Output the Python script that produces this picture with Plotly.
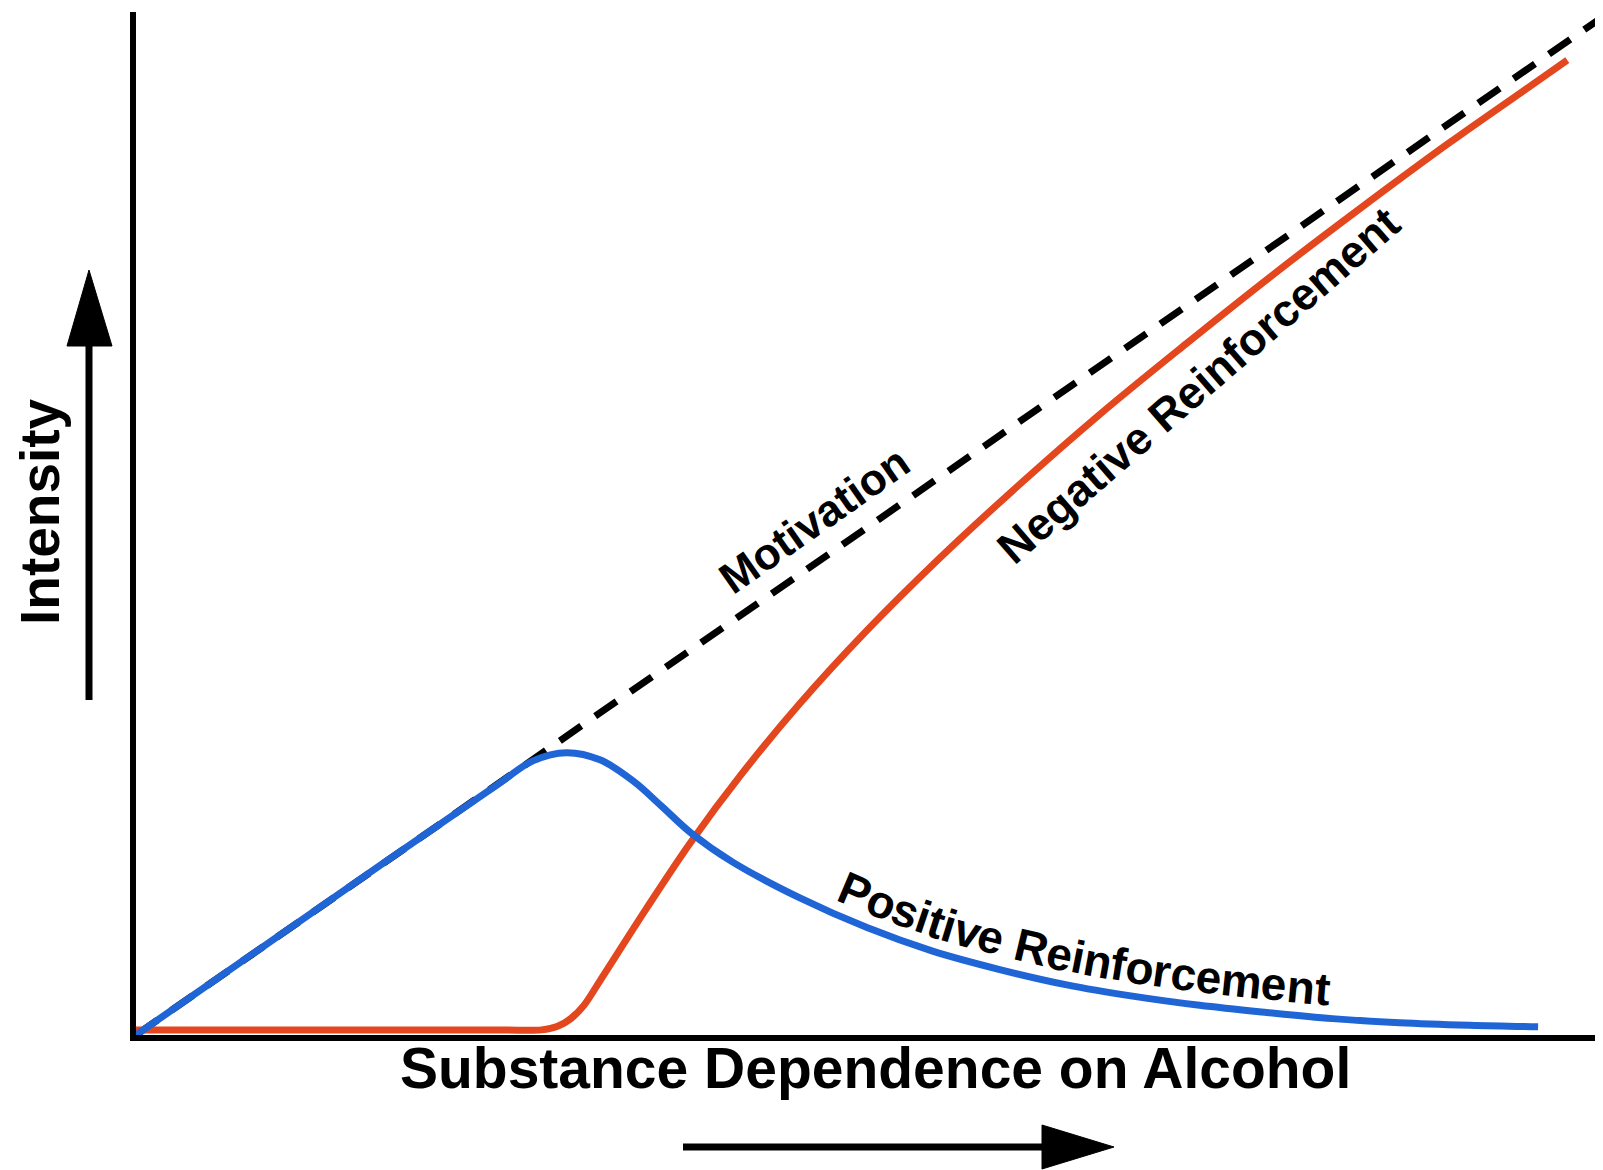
import math

import numpy as np
import plotly.graph_objects as go

# curves (x: dependence, y: intensity, both 0-100)
motivation_x = [0, 100.5]
motivation_y = [0, 99.5]

positive_x = [0, 12.0, 24.9, 27.2, 29.5, 31.8, 34.1, 36.0, 38.0, 40.9, 45.5, 50.1, 54.6,
              59.2, 63.8, 68.3, 72.9, 77.5, 82.0, 86.6, 91.4, 96.1]
positive_y = [0, 11.9, 24.6, 26.8, 27.6, 26.9, 24.8, 22.4, 19.8, 16.9, 13.4, 10.5, 8.2,
              6.4, 4.9, 3.8, 2.9, 2.2, 1.6, 1.2, 0.95, 0.8]

negative_x = [0, 9.0, 18.0, 25.0, 27.8, 28.9, 29.8, 30.7, 31.8, 35.0, 38.0, 41.5, 45.5,
              50.0, 55.0, 60.0, 66.0, 72.0, 78.0, 84.0, 90.0, 95.0, 98.1]
negative_y = [0.5, 0.5, 0.5, 0.5, 0.5, 0.85, 1.6, 2.9, 5.3, 12.4, 18.8, 25.5, 32.4,
              39.4, 46.5, 53.1, 60.6, 67.6, 74.4, 80.9, 87.2, 92.2, 95.3]

BLUE = "#1f65d6"
RED = "#e4461e"
FONT = "Liberation Sans, Arial, sans-serif"

W, H = 1603, 1170
ML, MR, MT, MB = 136, 8, 12, 135
PW, PH = W - ML - MR, H - MT - MB
SX, SY = PW / 100, PH / 100


def paper(px, py):
    return (px - ML) / PW, (H - MB - py) / PH


def to_px(x, y):
    return ML + np.asarray(x) * SX, H - MB - np.asarray(y) * SY


def to_data(px, py):
    return (px - ML) / SX, (H - MB - py) / SY


fig = go.Figure()
fig.add_trace(go.Scatter(x=motivation_x, y=motivation_y, mode="lines",
                         line=dict(color="black", width=7, dash="26px,17px")))
fig.add_trace(go.Scatter(x=negative_x, y=negative_y, mode="lines", line_shape="spline",
                         line=dict(color=RED, width=7, smoothing=1.0)))
fig.add_trace(go.Scatter(x=positive_x, y=positive_y, mode="lines", line_shape="spline",
                         line=dict(color=BLUE, width=7, smoothing=1.0)))

ann = []
ann.append(dict(x=46.5, y=50.4, xref="x", yref="y", text="Motivation", showarrow=False,
                textangle=-35, xanchor="center", yanchor="middle",
                font=dict(family=FONT, size=44, color="black", weight="bold")))
ann.append(dict(x=72.8, y=63.5, xref="x", yref="y", text="Negative Reinforcement",
                showarrow=False, textangle=-41, xanchor="center", yanchor="middle",
                font=dict(family=FONT, size=45, color="black", weight="bold")))

# "Positive Reinforcement" bends along the blue curve: place it glyph by glyph
pos_size = 46
widths = {"P": 667, "o": 611, "s": 556, "i": 278, "t": 333, "v": 556, "e": 556, " ": 278,
          "R": 722, "n": 611, "f": 333, "r": 389, "c": 556, "m": 889}
xs = np.linspace(34, 96, 800)
bx, by = to_px(xs, np.interp(xs, positive_x, positive_y))
arc = np.concatenate([[0], np.cumsum(np.hypot(np.diff(bx), np.diff(by)))])
s = np.interp(830, bx, arc)
for ch in "Positive Reinforcement":
    w = widths[ch] * pos_size / 1000
    sc = s + w / 2
    s += w
    if ch == " ":
        continue
    px, py = np.interp(sc, arc, bx), np.interp(sc, arc, by)
    tx = np.interp(sc + 40, arc, bx) - np.interp(sc - 40, arc, bx)
    ty = np.interp(sc + 40, arc, by) - np.interp(sc - 40, arc, by)
    n = math.hypot(tx, ty)
    tx, ty = tx / n, ty / n
    cx, cy = to_data(px + ty * 29, py - tx * 29)
    ann.append(dict(x=cx, y=cy, xref="x", yref="y", text=ch, showarrow=False,
                    xanchor="center", yanchor="middle",
                    textangle=math.degrees(math.atan2(ty, tx)),
                    font=dict(family=FONT, size=pos_size, color="black", weight="bold")))

tx, ty = paper(875, 1068)
ann.append(dict(x=tx, y=ty, xref="paper", yref="paper", text="Substance Dependence on Alcohol",
                showarrow=False, xanchor="center", yanchor="middle",
                font=dict(family=FONT, size=57, color="black", weight="bold")))
tx, ty = paper(40, 512)
ann.append(dict(x=tx, y=ty, xref="paper", yref="paper", text="Intensity", textangle=-90,
                showarrow=False, xanchor="center", yanchor="middle",
                font=dict(family=FONT, size=55, color="black", weight="bold")))

# direction arrows beside the axes
shapes = []
x0, y0 = paper(89, 700)
x1, y1 = paper(89, 340)
shapes.append(dict(type="line", xref="paper", yref="paper", x0=x0, y0=y0, x1=x1, y1=y1,
                   line=dict(color="black", width=7)))
a, b, c = paper(89, 270), paper(67, 346), paper(112, 346)
shapes.append(dict(type="path", xref="paper", yref="paper", fillcolor="black",
                   line=dict(color="black", width=1),
                   path=f"M{a[0]},{a[1]} L{b[0]},{b[1]} L{c[0]},{c[1]} Z"))
x0, y0 = paper(683, 1147)
x1, y1 = paper(1048, 1147)
shapes.append(dict(type="line", xref="paper", yref="paper", x0=x0, y0=y0, x1=x1, y1=y1,
                   line=dict(color="black", width=7)))
a, b, c = paper(1114, 1147), paper(1042, 1125), paper(1042, 1169)
shapes.append(dict(type="path", xref="paper", yref="paper", fillcolor="black",
                   line=dict(color="black", width=1),
                   path=f"M{a[0]},{a[1]} L{b[0]},{b[1]} L{c[0]},{c[1]} Z"))

axis = dict(showline=True, linecolor="black", linewidth=6, showgrid=False, zeroline=False,
            showticklabels=False, ticks="", layer="below traces", fixedrange=True)
fig.update_xaxes(range=[0, 100], **axis)
fig.update_yaxes(range=[0, 100], **axis)
fig.update_layout(width=W, height=H, margin=dict(l=ML, r=MR, t=MT, b=MB),
                  plot_bgcolor="white", paper_bgcolor="white", showlegend=False,
                  annotations=ann, shapes=shapes)

fig.write_html("out.html", config={"displayModeBar": False},
               post_script="document.body.style.margin='0';document.body.style.overflow='hidden';")
